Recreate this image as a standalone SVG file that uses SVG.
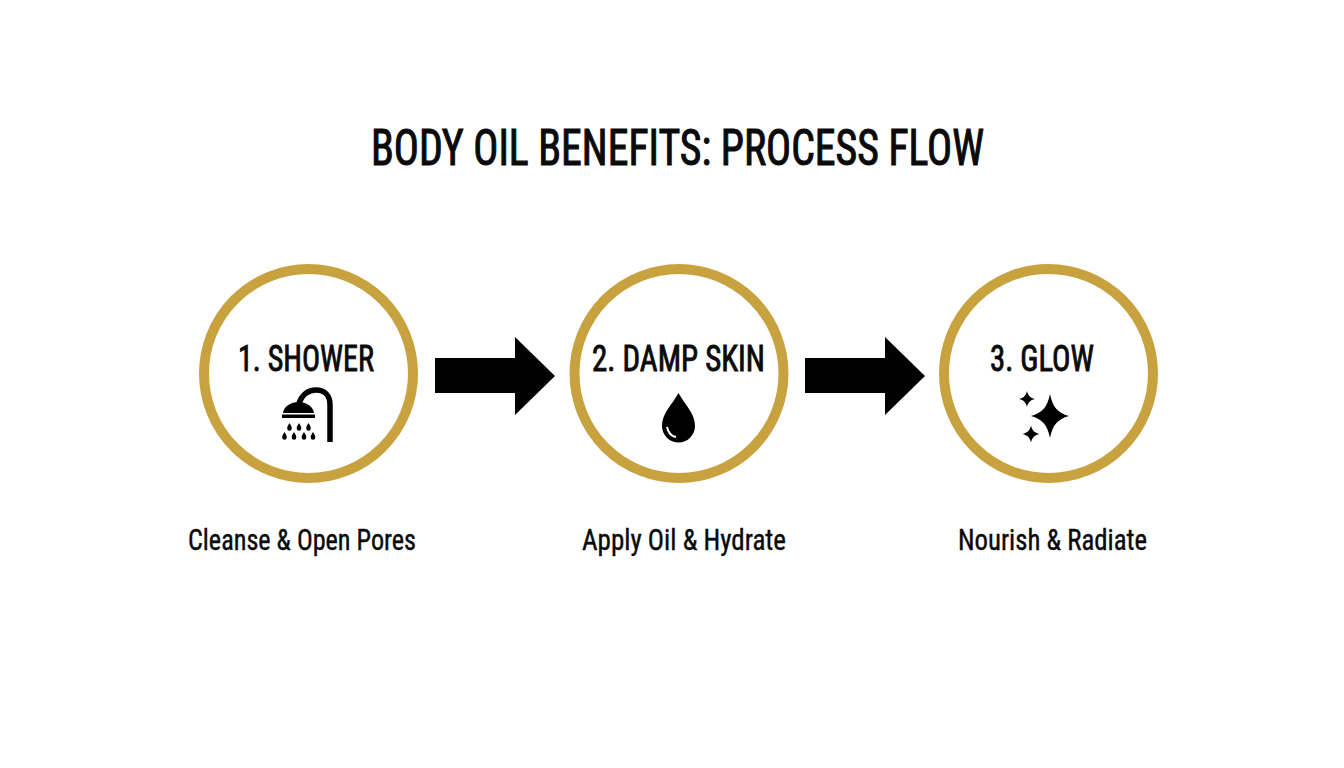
<svg xmlns="http://www.w3.org/2000/svg" width="1344" height="768" viewBox="0 0 1344 768">
<defs>
<style>
text{font-family:"Liberation Sans Narrow","Roboto Condensed","Liberation Sans",sans-serif;fill:#0a0a0a;stroke:#0a0a0a}
.title{font-size:50px;font-weight:400;stroke-width:1.100px}
.step{font-size:37px;font-weight:400;stroke-width:.9px}
.cap{font-size:29px;font-weight:400;stroke-width:.4px}
.ring{fill:#fff;stroke:#c9a240;stroke-width:10}
.arrow{fill:#000}
</style>
<path id="tear" d="M0-4C1.300-1.800 2.300-.4 2.300 1.200A2.300 2.500 0 0 1-2.300 1.200C-2.300-.4-1.300-1.800 0-4Z" fill="#000"/>
<path id="spark" d="M0-1C.14-.4.4-.15 1 0C.4.15.14.4 0 1C-.14.4-.4.15-1 0C-.4-.15-.14-.4 0-1Z" fill="#000"/>
</defs>
<rect width="1344" height="768" fill="#fff"/>
<text class="title" x="371" y="165" textLength="613" lengthAdjust="spacingAndGlyphs">BODY OIL BENEFITS: PROCESS FLOW</text>
<g id="connectors">
<path class="arrow" d="M435 358H515V337L555 376L515 415V393H435Z"/>
<path class="arrow" d="M805 358H885V337L925 376L885 415V393H805Z"/>
</g>
<g id="node-shower">
<circle class="ring" cx="308.500" cy="373.500" r="104.500"/>
<text class="step" x="238" y="371" textLength="136" lengthAdjust="spacingAndGlyphs">1. SHOWER</text>
<path d="M299 403C303 393 310 390 316 390C325 390 330 396 330 405V442" fill="none" stroke="#000" stroke-width="5.500"/>
<path d="M283 413C284 406 291 402 298.500 402C306 402 313 406 314 413Z" fill="#000"/>
<rect x="282" y="414.500" width="33" height="3.500" fill="#000"/>
<use href="#tear" transform="translate(289.500 427)"/>
<use href="#tear" transform="translate(299 427)"/>
<use href="#tear" transform="translate(308.500 427)"/>
<use href="#tear" transform="translate(284.500 436)"/>
<use href="#tear" transform="translate(294 436)"/>
<use href="#tear" transform="translate(304 436)"/>
<use href="#tear" transform="translate(313 436)"/>
</g>
<g id="node-damp-skin">
<circle class="ring" cx="679" cy="373.500" r="104.500"/>
<text class="step" x="592" y="371" textLength="173" lengthAdjust="spacingAndGlyphs">2. DAMP SKIN</text>
<path d="M678.500 393C685 405 695 413 695 426A16.500 16.500 0 0 1 662 426C662 413 672 405 678.500 393Z" fill="#000"/>
<path d="M667 427C668 432 671 436 676 437" fill="none" stroke="#fff" stroke-width="2"/>
</g>
<g id="node-glow">
<circle class="ring" cx="1048.500" cy="373.500" r="104.500"/>
<text class="step" x="990" y="371" textLength="104" lengthAdjust="spacingAndGlyphs">3. GLOW</text>
<use href="#spark" transform="translate(1050 416) scale(19 22)"/>
<use href="#spark" transform="translate(1027 399) scale(8)"/>
<use href="#spark" transform="translate(1031 434) scale(8.500)"/>
</g>
<g id="captions">
<text class="cap" x="188" y="550" textLength="228" lengthAdjust="spacingAndGlyphs">Cleanse &amp; Open Pores</text>
<text class="cap" x="582" y="550" textLength="204" lengthAdjust="spacingAndGlyphs">Apply Oil &amp; Hydrate</text>
<text class="cap" x="958" y="550" textLength="189" lengthAdjust="spacingAndGlyphs">Nourish &amp; Radiate</text>
</g>
</svg>
